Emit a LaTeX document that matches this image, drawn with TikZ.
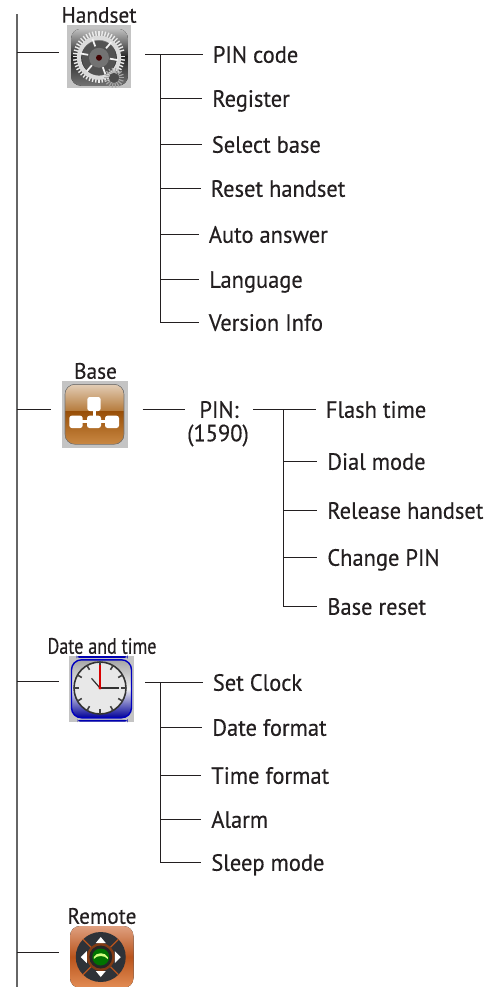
\documentclass[tikz,border=0pt]{standalone}
\usepackage{fontspec}
\usetikzlibrary{calc}
\setmainfont[FakeBold=.35,FakeStretch=.955]{PT Sans}
\newfontfamily\narrowfont[FakeBold=.35,FakeStretch=.81]{PT Sans}
\definecolor{ink}{HTML}{231F20}
\definecolor{trunkgray}{HTML}{666666}
\definecolor{dialgray}{HTML}{2E3238}
\definecolor{remotetop}{HTML}{DFA080}
\definecolor{remotemid}{HTML}{B9541C}
\definecolor{remotelow}{HTML}{E38D55}
\definecolor{basetop}{HTML}{E2CDB6}
\definecolor{basemid}{HTML}{B57A3A}
\definecolor{baselow}{HTML}{984F08}
\definecolor{basefoot}{HTML}{C98843}
\begin{document}
\begin{tikzpicture}[x=.02cm,y=-.02cm]
\tikzstyle{item}=[anchor=west,inner xsep=.2cm,inner ysep=0,text=ink,font=\fontsize{13.4}{15}\selectfont,text height=9.4pt,text depth=0pt]
\tikzstyle{head}=[inner sep=0,text=ink,font=\fontsize{12.7}{14}\selectfont]
\tikzstyle{wire}=[line width=.6pt,ink]
\tikzstyle{iconbox}=[fill=black!23,draw=none,inner sep=0]
\useasboundingbox (0,0) rectangle (494,987);
% ========= trunk
\coordinate (trunktop) at (17,14);
\coordinate (trunkend) at (17,987);
\draw [line width=1pt,trunkgray] (trunktop) -- (trunkend);
% ========= handset
\node (handsetlabel) [head] at (99,15) {Handset};
\node (handset) [iconbox,minimum width=1.28cm,minimum height=1.27cm] at (99,56.75) {};
\begin{scope}[shift={(handset.center)}]
\begin{scope}
\clip [rounded corners=.2cm] (-28,-28) rectangle (29,29);
\fill [top color=black!25,bottom color=black!85] (-28,-28) rectangle (29,0);
\fill [top color=black!85,bottom color=black!55] (-28,0) rectangle (29,29);
\end{scope}
\foreach \a in {0,7.5,...,352} \draw [line width=.8pt,black!8] (\a:20) -- (\a:26);
\draw [line width=2.4pt,black!14] (0,1) circle (20);
\fill [black!68] (0,1) circle (17);
\foreach \a in {10,70,...,350} \draw [line width=1pt,black!5] (\a:11) -- (\a:19);
\fill [black!55] (0,1) circle (10);
\fill [black!75!red] (0,1) circle (3);
\foreach \a in {0,20,...,340} \draw [line width=.7pt,black!35] ($(15,21)+(\a:5)$) -- ($(15,21)+(\a:10)$);
\fill [black!70] (15,21) circle (5);
\end{scope}
\coordinate (handsetin) at (58.5,52.5);
\draw [wire] (trunktop |- handsetin) -- (handsetin);
\coordinate (handsetout) at (145,54.5);
\coordinate (handsetbus) at (160.5,54.5);
% ====== handset items
\node (pincode) [item] at (202.5,54.5) {PIN code};
\node (register) [item] at (202,98.5) {Register};
\node (selectbase) [item] at (201.5,144.5) {Select base};
\node (resethandset) [item] at (200.5,188.5) {Reset handset};
\node (autoanswer) [item] at (198.5,234.5) {Auto answer};
\node (language) [item] at (199,279.5) {Language};
\node (versioninfo) [item] at (198.5,322.5) {Version Info};
\draw [wire] (handsetout) -- (pincode.west);
\draw [wire] (handsetbus) -- (handsetbus |- versioninfo.west) -- (versioninfo.west);
\draw [wire] (handsetbus |- register.west) -- (register.west);
\draw [wire] (handsetbus |- selectbase.west) -- (selectbase.west);
\draw [wire] (handsetbus |- resethandset.west) -- (resethandset.west);
\draw [wire] (handsetbus |- autoanswer.west) -- (autoanswer.west);
\draw [wire] (handsetbus |- language.west) -- (language.west);
% ========= base
\node (baselabel) [head] at (95.5,371) {Base};
\node (base) [iconbox,minimum width=1.32cm,minimum height=1.34cm] at (95,414.3) {};
\begin{scope}[shift={(base.center)}]
\begin{scope}
\clip [rounded corners=.2cm] (-30,-30) rectangle (29,30);
\fill [top color=basetop,bottom color=basemid] (-30,-30) rectangle (29,-3);
\fill [top color=baselow,bottom color=basefoot] (-30,-3) rectangle (29,30);
\end{scope}
\draw [line width=.3pt,black!55,rounded corners=.2cm] (-30,-30) rectangle (29,30);
\fill [white,rounded corners=.05cm] (-7.7,-17.3) rectangle (5.7,-3.3);
\fill [white,rounded corners=.05cm] (-25.7,1.4) rectangle (-12.3,13.7);
\fill [white,rounded corners=.05cm] (-8,1.4) rectangle (6,13.7);
\fill [white,rounded corners=.05cm] (10,1.4) rectangle (24,13.7);
\fill [white] (-2.5,-4) rectangle (.5,2);
\fill [white] (-13,6) rectangle (11,9);
\end{scope}
\coordinate (basein) at (51,409.5);
\draw [wire] (trunktop |- basein) -- (basein);
\coordinate (baseout) at (142.5,409.5);
\coordinate (basebus) at (283.5,409.5);
\node (pin) [item,anchor=center,inner xsep=0,minimum width=1.36cm] at (219,409.5) {PIN:};
\node (pinvalue) [item,anchor=center,inner xsep=0] at (218,433) {(1590)};
\draw [wire] (baseout) -- (pin.west);
% ====== base items
\node (flashtime) [item] at (315.5,409.5) {Flash time};
\node (dialmode) [item] at (317,461.5) {Dial mode};
\node (releasehandset) [item] at (317,510.5) {Release handset};
\node (changepin) [item] at (317,557.5) {Change PIN};
\node (basereset) [item] at (317,606.5) {Base reset};
\draw [wire] (pin.east) -- (flashtime.west);
\draw [wire] (basebus) -- (basebus |- basereset.west) -- (basereset.west);
\draw [wire] (basebus |- dialmode.west) -- (dialmode.west);
\draw [wire] (basebus |- releasehandset.west) -- (releasehandset.west);
\draw [wire] (basebus |- changepin.west) -- (changepin.west);
% ========= date and time
\node (datelabel) [head,font=\fontsize{12.7}{14}\narrowfont] at (102,646) {Date and time};
\node (date) [iconbox,minimum width=1.3cm,minimum height=1.31cm] at (101.5,688.8) {};
\begin{scope}[shift={(date.center)}]
\fill [rounded corners=.05cm,blue!70!black] (-25,-32.8) rectangle (26,-31);
\fill [rounded corners=.05cm,blue!70!black] (-24,31) rectangle (26,32.8);
\draw [line width=.8pt,rounded corners=.2cm,blue!75!black,top color=black!35,bottom color=blue!60!black,middle color=black!6] (-30,-29) rectangle (30,29);
\draw [line width=.9pt,black!80,fill=black!9] (-1.5,-.8) circle (26);
\foreach \a in {0,30,...,330} \draw [line width=.9pt,black!75] ($(-1.5,-.8)+(\a:21)$) -- ($(-1.5,-.8)+(\a:26)$);
\draw [line width=.7pt,black!80] (-1.5,-.8) -- (17,-.8);
\draw [line width=.7pt,black!80] (-1.5,-.8) -- (-10,-10.5);
\draw [line width=.8pt,red!85!black] (-1.5,-.8) -- (-1.5,-24);
\fill [red!85!black] (-1.5,-.8) circle (1.6);
\end{scope}
\coordinate (datein) at (58.5,681.5);
\draw [wire] (trunktop |- datein) -- (datein);
\coordinate (dateout) at (145,682.5);
\coordinate (datebus) at (160.5,682.5);
% ====== date items
\node (setclock) [item] at (202.5,682.5) {Set Clock};
\node (dateformat) [item] at (202,727.5) {Date format};
\node (timeformat) [item] at (201,775.5) {Time format};
\node (alarm) [item] at (201,819.5) {Alarm};
\node (sleepmode) [item] at (201,862.5) {Sleep mode};
\draw [wire] (dateout) -- (setclock.west);
\draw [wire] (datebus) -- (datebus |- sleepmode.west) -- (sleepmode.west);
\draw [wire] (datebus |- dateformat.west) -- (dateformat.west);
\draw [wire] (datebus |- timeformat.west) -- (timeformat.west);
\draw [wire] (datebus |- alarm.west) -- (alarm.west);
% ========= remote
\node (remotelabel) [head] at (102,916) {Remote};
\node (remote) [inner sep=0,minimum width=1.27cm,minimum height=1.24cm] at (101.75,957) {};
\begin{scope}[shift={(remote.center)}]
\fill [rounded corners=.2cm,top color=remotetop,bottom color=remotelow,middle color=remotemid] (-31.75,-31) rectangle (31.75,31);
\fill [dialgray] (-1,0) circle (25);
\foreach \a in {45,135,225,315} \draw [line width=.7pt,remotemid] ($(-1,0)+(\a:12)$) -- ($(-1,0)+(\a:25)$);
\fill [remotemid!70!black] (-1,0) circle (14);
\fill [black!85] (-1,0) circle (11.5);
\fill [green!45!black] (-1,0) circle (8.5);
\fill [green!35!yellow!50!white] (-8,0) .. controls (-5,-5) and (3,-5) .. (6,0) -- (6,2) .. controls (3,-2) and (-5,-2) .. (-8,2) -- cycle;
\fill [white] (-1,-20) -- (-6,-14) -- (4,-14) -- cycle;
\fill [white] (-1,20) -- (-6,14) -- (4,14) -- cycle;
\fill [white] (-21,0) -- (-15,-6) -- (-15,6) -- cycle;
\fill [white] (19,0) -- (13,-6) -- (13,6) -- cycle;
\end{scope}
\coordinate (remotein) at (58.5,952.5);
\draw [wire] (trunktop |- remotein) -- (remotein);
\end{tikzpicture}
\end{document}
